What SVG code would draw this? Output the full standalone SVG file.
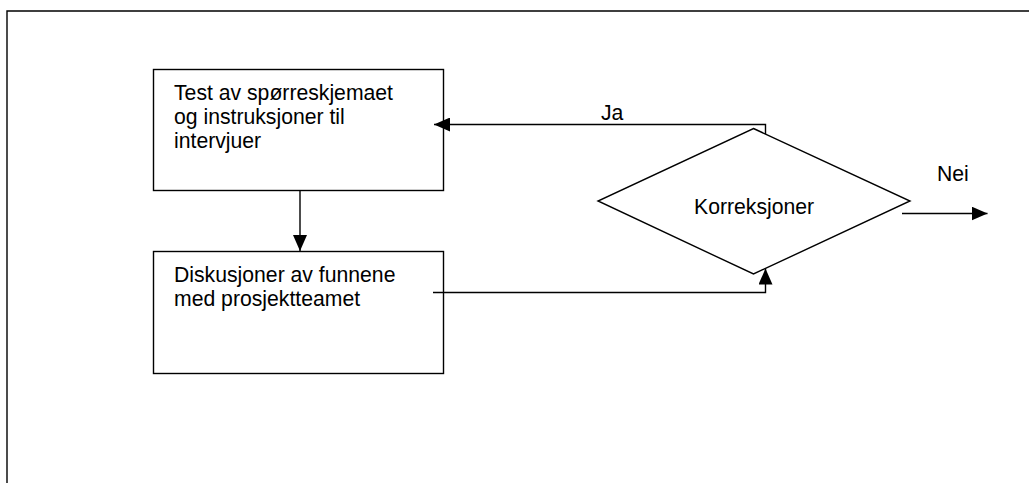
<svg xmlns="http://www.w3.org/2000/svg" width="1029" height="483" viewBox="0 0 1029 483">
  <style>
    .shape { fill: #ffffff; stroke: #000000; stroke-width: 1.4; }
    .conn { fill: none; stroke: #000000; stroke-width: 1.4; }
    .lbl { font-family: "Liberation Sans", Arial, sans-serif; font-size: 21.2px; fill: #000000; }
  </style>
  <defs>
    <marker id="arrow" viewBox="0 0 16 14" refX="16" refY="7" markerWidth="16" markerHeight="14" markerUnits="userSpaceOnUse" orient="auto">
      <path d="M0,0 L16,7 L0,14 Z" fill="#000000"/>
    </marker>
  </defs>
  <rect x="0" y="0" width="1029" height="483" fill="#ffffff"/>
  <g id="frame">
    <path class="conn" d="M7,483 L7,11 L1029,11" stroke-width="1.6"/>
  </g>
  <g id="node-test">
    <rect class="shape" x="153.5" y="69.5" width="290" height="121"/>
    <text class="lbl" x="174" y="100">Test av spørreskjemaet</text>
    <text class="lbl" x="174" y="123.5">og instruksjoner til</text>
    <text class="lbl" x="174" y="147.5">intervjuer</text>
  </g>
  <g id="node-diskusjon">
    <rect class="shape" x="153.5" y="251.5" width="290" height="122"/>
    <text class="lbl" x="174" y="281.5">Diskusjoner av funnene</text>
    <text class="lbl" x="174" y="306">med prosjektteamet</text>
  </g>
  <g id="node-korreksjoner">
    <polygon class="shape" points="753.5,128.5 910,201 753.5,274 598,201"/>
    <text class="lbl" x="694" y="213.5">Korreksjoner</text>
  </g>
  <g id="connectors">
    <path class="conn" d="M300,191 L300,251" marker-end="url(#arrow)"/>
    <path class="conn" d="M433,292.5 L765.5,292.5 L765.5,268.5" marker-end="url(#arrow)"/>
    <path class="conn" d="M765.5,134 L765.5,124.5 L434,124.5" marker-end="url(#arrow)"/>
    <path class="conn" d="M902,213.5 L987.5,213.5" marker-end="url(#arrow)"/>
    <text class="lbl" x="601" y="120">Ja</text>
    <text class="lbl" x="937" y="180.5">Nei</text>
  </g>
</svg>
